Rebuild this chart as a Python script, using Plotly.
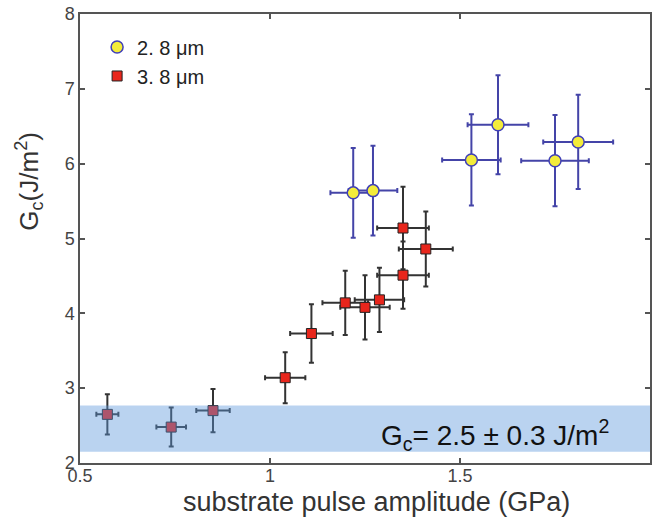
import plotly.graph_objects as go

# ---- data ----
yellow_label = "2. 8 \u03bcm"
yellow_x = [1.219, 1.271, 1.530, 1.600, 1.750, 1.811]
yellow_y = [5.61, 5.64, 6.05, 6.52, 6.04, 6.29]
yellow_xerr = [0.060, 0.064, 0.077, 0.080, 0.089, 0.092]
yellow_yerr = [0.60, 0.60, 0.61, 0.66, 0.61, 0.63]

red_label = "3. 8 \u03bcm"
red_x = [0.572, 0.740, 0.850, 1.040, 1.109, 1.198, 1.250, 1.288, 1.350, 1.350, 1.410]
red_y = [2.65, 2.48, 2.70, 3.14, 3.73, 4.14, 4.08, 4.18, 4.51, 5.14, 4.86]
red_xerr = [0.029, 0.039, 0.044, 0.053, 0.056, 0.060, 0.065, 0.065, 0.068, 0.068, 0.071]
red_yerr = [0.27, 0.26, 0.29, 0.34, 0.39, 0.43, 0.43, 0.43, 0.45, 0.55, 0.50]

band_low, band_high = 2.15, 2.77
band_text = "G<sub>c</sub>= 2.5 \u00b1 0.3 J/m<sup>2</sup>"

x_ticks = [0.5, 1, 1.5, 2]
x_ticklabels = ["0.5", "1", "1.5", "2"]
y_ticks = [2, 3, 4, 5, 6, 7, 8]

x_title = "substrate pulse amplitude (GPa)"
y_title = "G<sub>c</sub>(J/m<sup>2</sup>)"

FONT = "Liberation Sans, Arial, Helvetica, sans-serif"
BLUE_ERR = "#4444a8"
DARK_ERR = "#333333"
AXIS = "#555555"

fig = go.Figure()

fig.add_trace(go.Scatter(
    x=yellow_x, y=yellow_y, mode="markers", name=yellow_label,
    marker=dict(symbol="circle", size=12, color="#f3ec3a",
                line=dict(color="#4040b8", width=1.5)),
    error_x=dict(type="data", array=yellow_xerr, color=BLUE_ERR, thickness=2, width=2.5),
    error_y=dict(type="data", array=yellow_yerr, color=BLUE_ERR, thickness=2, width=2.5),
))

fig.add_trace(go.Scatter(
    x=red_x, y=red_y, mode="markers", name=red_label,
    marker=dict(symbol="square", size=10, color="#e8261c",
                line=dict(color="#222222", width=1)),
    error_x=dict(type="data", array=red_xerr, color=DARK_ERR, thickness=2, width=2.5),
    error_y=dict(type="data", array=red_yerr, color=DARK_ERR, thickness=2, width=2.5),
))

fig.add_shape(type="rect", xref="paper", yref="y", x0=0, x1=1,
              y0=band_low, y1=band_high, layer="above",
              fillcolor="rgba(90,150,220,0.42)", line=dict(width=0))

fig.add_annotation(text=band_text, xref="paper", yref="y", x=0.932, y=2.38,
                   xanchor="right", yanchor="middle", showarrow=False,
                   font=dict(family=FONT, size=28, color="#111111"))

fig.add_annotation(text=x_title, xref="paper", yref="paper", x=0.52, y=-0.087,
                   xanchor="center", yanchor="middle", showarrow=False,
                   font=dict(family=FONT, size=27, color="#333333"))

fig.add_annotation(text=y_title, xref="paper", yref="paper", x=-0.09, y=0.628,
                   xanchor="center", yanchor="middle", showarrow=False, textangle=-90,
                   font=dict(family=FONT, size=26, color="#333333"))

axis_common = dict(showline=True, linecolor=AXIS, linewidth=1.5, mirror="ticks",
                   ticks="inside", ticklen=5, tickwidth=1.5, tickcolor=AXIS,
                   showgrid=False, zeroline=False,
                   tickfont=dict(family=FONT, size=18, color="#444444"))

fig.update_xaxes(range=[0.5, 2], tickvals=x_ticks, ticktext=x_ticklabels,
                 ticklabelstandoff=-4, **axis_common)
fig.update_yaxes(range=[2, 8], tickvals=y_ticks, **axis_common)

fig.update_layout(
    width=655, height=523,
    margin=dict(l=80, r=3, t=14, b=60),
    paper_bgcolor="white", plot_bgcolor="white",
    showlegend=True,
    legend=dict(x=0.03, y=0.97, xanchor="left", yanchor="top",
                bgcolor="rgba(0,0,0,0)", borderwidth=0,
                font=dict(family=FONT, size=20, color="#222222")),
)

fig.write_html("out.html", config={"displayModeBar": False},
               post_script="document.body.style.margin='0';")
